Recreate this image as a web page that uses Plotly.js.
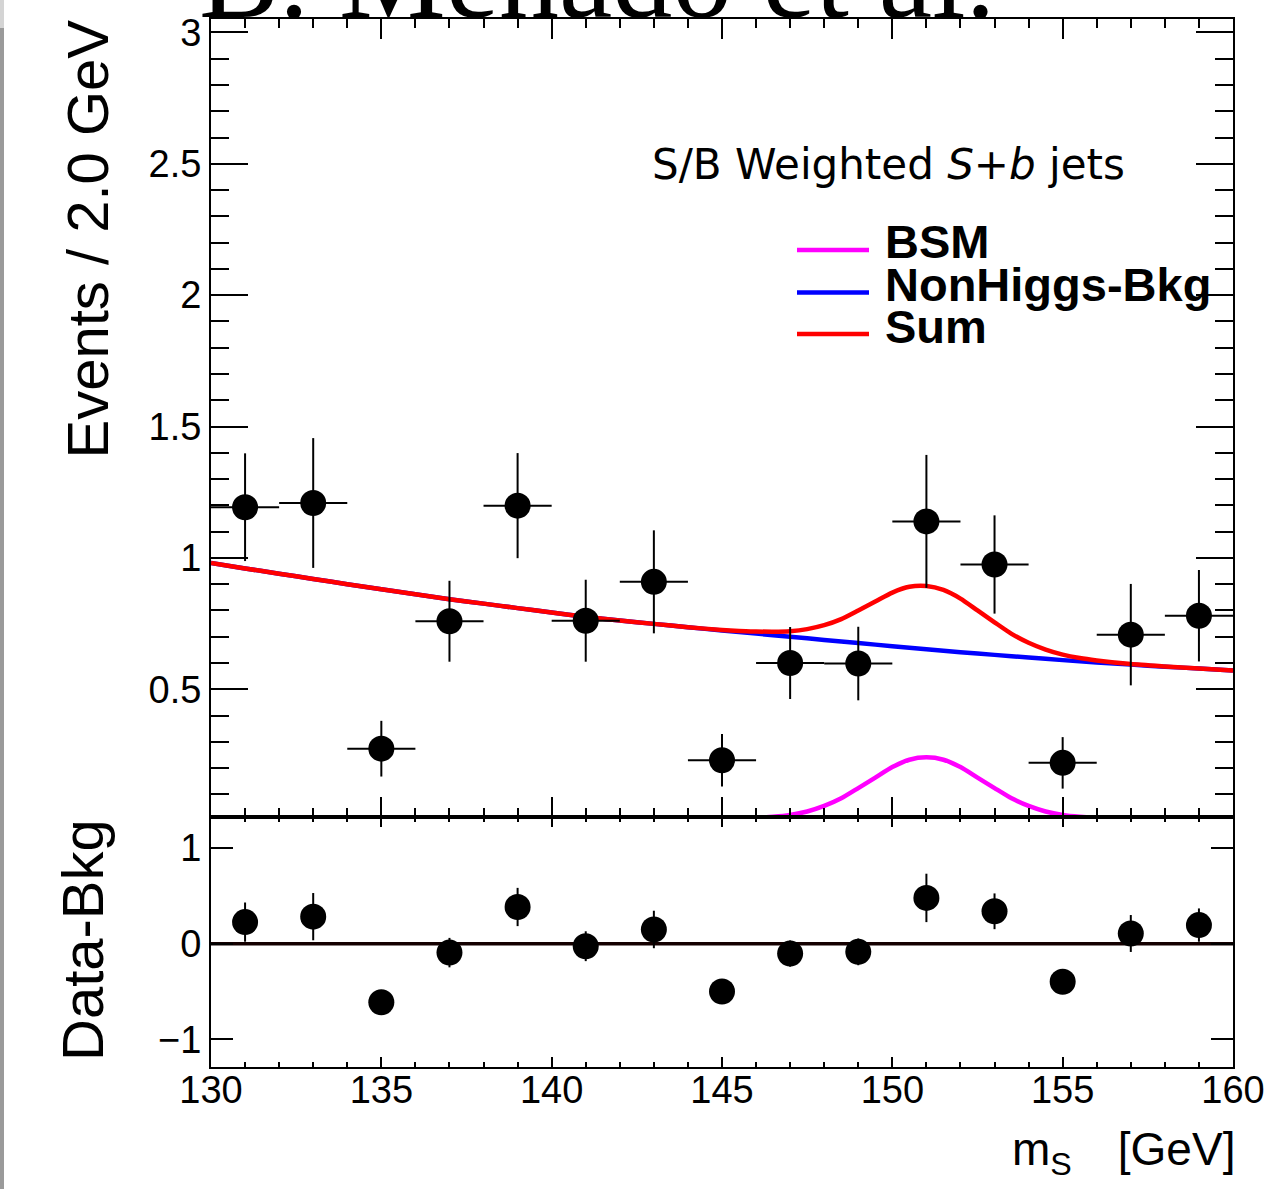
<!DOCTYPE html>
<html>
<head>
<meta charset="utf-8">
<script src="https://cdn.plot.ly/plotly-3.0.1.min.js"></script>
<style>html,body{margin:0;padding:0;background:#fff;}#chart{width:1270px;height:1189px;}</style>
</head>
<body>
<div id="chart"></div>
<script>
// ---- data ----
const binCenters = [131,133,135,137,139,141,143,145,147,149,151,153,155,157,159];
const dataY   = [1.193,1.209,0.274,0.759,1.199,0.761,0.909,0.230,0.600,0.598,1.139,0.975,0.220,0.708,0.780];
const dataErr = [0.205,0.247,0.106,0.154,0.200,0.156,0.196,0.100,0.137,0.140,0.253,0.187,0.098,0.193,0.174];
const binHalfWidth = 1.0;

const resY   = [0.227,0.284,-0.611,-0.092,0.385,-0.025,0.150,-0.499,-0.102,-0.084,0.480,0.340,-0.397,0.108,0.196];
const resErr = [0.205,0.247,0.106,0.154,0.200,0.156,0.196,0.100,0.137,0.140,0.253,0.187,0.098,0.193,0.174];

const bkgX = [130,131,132,133,134,135,136,137,138,139,140,141,142,143,144,145,146,147,148,149,150,151,152,153,154,155,156,157,158,159,160];
const bkgY = [0.981,0.960,0.940,0.920,0.900,0.881,0.862,0.843,0.826,0.809,0.792,0.776,0.762,0.749,0.736,0.724,0.712,0.700,0.688,0.676,0.664,0.652,0.641,0.631,0.621,0.611,0.602,0.594,0.586,0.579,0.572];

const bsmX = [145.5,146,146.5,147,147.5,148,148.5,149,149.5,150,150.5,151,151.5,152,152.5,153,153.5,154,154.5,155,155.5,156,156.5];
const bsmY = [0.006,0.011,0.015,0.022,0.035,0.056,0.085,0.124,0.164,0.204,0.232,0.241,0.232,0.204,0.164,0.124,0.085,0.056,0.035,0.022,0.015,0.011,0.006];

const sumX = [130,131,132,133,134,135,136,137,138,139,140,141,142,143,144,145,145.5,146,146.5,147,147.5,148,148.5,149,149.5,150,150.5,151,151.5,152,152.5,153,153.5,154,154.5,155,155.5,156,157,158,159,160];
const sumY = [0.981,0.960,0.940,0.920,0.900,0.881,0.862,0.843,0.826,0.809,0.792,0.776,0.762,0.749,0.736,0.726,0.722,0.720,0.719,0.721,0.729,0.744,0.767,0.800,0.834,0.868,0.890,0.893,0.878,0.845,0.800,0.755,0.711,0.677,0.651,0.632,0.619,0.610,0.596,0.587,0.579,0.572];

const zeroX = [130,160];
const zeroY = [0,0];

const xTickVals = [130,135,140,145,150,155,160];
const xTickText = ['130','135','140','145','150','155','160'];
const yTickVals = [0.5,1,1.5,2,2.5,3];
const yTickText = ['0.5','1','1.5','2','2.5','3'];
const rTickVals = [-1,0,1];
const rTickText = ['\u22121','0','1'];

const legendNames = ['BSM','NonHiggs-Bkg','Sum'];
const legendColors = ['#ff00ff','#0000ff','#ff0000'];

// ---- geometry helpers (pixel -> paper) ----
const W = 1270, H = 1189, ML = 211, MR = 37, MT = 19, MB = 122;
const PW = W - ML - MR, PH = H - MT - MB;
const px = v => (v - ML) / PW;
const py = v => (H - MB - v) / PH;
const split = py(817);

const FONT = 'Liberation Sans, Arial, Helvetica, sans-serif';

const traces = [
  {x: bkgX, y: bkgY, mode: 'lines', line: {color: '#0000ff', width: 4.5, shape: 'spline', smoothing: 0.6}, xaxis: 'x', yaxis: 'y', name: legendNames[1], hoverinfo: 'skip'},
  {x: sumX, y: sumY, mode: 'lines', line: {color: '#ff0000', width: 4.5, shape: 'spline', smoothing: 0.6}, xaxis: 'x', yaxis: 'y', name: legendNames[2], hoverinfo: 'skip'},
  {x: bsmX, y: bsmY, mode: 'lines', line: {color: '#ff00ff', width: 4.5, shape: 'spline', smoothing: 0.6}, xaxis: 'x', yaxis: 'y', name: legendNames[0], hoverinfo: 'skip'},
  {x: binCenters, y: dataY, mode: 'markers', marker: {color: '#000', size: 26},
   error_y: {type: 'data', array: dataErr, visible: true, color: '#000', thickness: 2, width: 0},
   error_x: {type: 'constant', value: binHalfWidth, visible: true, color: '#000', thickness: 2, width: 0},
   xaxis: 'x', yaxis: 'y', name: 'Data'},
  {x: zeroX, y: zeroY, mode: 'lines', line: {color: '#140000', width: 3.5}, xaxis: 'x2', yaxis: 'y2', hoverinfo: 'skip'},
  {x: binCenters, y: resY, mode: 'markers', marker: {color: '#000', size: 26},
   error_y: {type: 'data', array: resErr, visible: true, color: '#000', thickness: 2, width: 0},
   xaxis: 'x2', yaxis: 'y2', name: 'Data-Bkg'}
];

const axisCommon = {
  showline: true, linecolor: '#000', linewidth: 2, mirror: 'allticks',
  ticks: 'inside', tickcolor: '#000', tickwidth: 2,
  showgrid: false, zeroline: false,
  tickfont: {family: FONT, size: 38, color: '#000'}
};

const layout = {
  width: W, height: H,
  margin: {l: ML, r: MR, t: MT, b: MB, pad: 0},
  paper_bgcolor: '#fff', plot_bgcolor: '#fff',
  showlegend: false,
  xaxis: Object.assign({}, axisCommon, {
    domain: [0, 1], anchor: 'y', range: [130, 160],
    tickmode: 'array', tickvals: xTickVals, ticktext: xTickText, showticklabels: false,
    ticklen: 20, minor: {dtick: 1, ticklen: 9, ticks: 'inside', tickcolor: '#000', tickwidth: 2}
  }),
  yaxis: Object.assign({}, axisCommon, {
    domain: [split, 1], anchor: 'x', range: [0.014, 3.051],
    tickmode: 'array', tickvals: yTickVals, ticktext: yTickText,
    ticklen: 37, ticklabelstandoff: 0,
    minor: {tick0: 0, dtick: 0.1, ticklen: 18, ticks: 'inside', tickcolor: '#000', tickwidth: 2}
  }),
  xaxis2: Object.assign({}, axisCommon, {
    domain: [0, 1], anchor: 'y2', range: [130, 160], matches: 'x',
    tickmode: 'array', tickvals: xTickVals, ticktext: xTickText,
    ticklen: 10, ticklabelstandoff: -12,
    minor: {dtick: 1, ticklen: 5, ticks: 'inside', tickcolor: '#000', tickwidth: 2}
  }),
  yaxis2: Object.assign({}, axisCommon, {
    domain: [0, split], anchor: 'x2', range: [-1.288, 1.326],
    tickmode: 'array', tickvals: rTickVals, ticktext: rTickText,
    ticklen: 22, ticklabelstandoff: 0
  }),
  shapes: [
    {type: 'rect', xref: 'paper', yref: 'paper', x0: px(0), x1: px(4), y0: py(28), y1: py(0), fillcolor: '#d4d4d4', line: {width: 0}, layer: 'above'},
    {type: 'rect', xref: 'paper', yref: 'paper', x0: px(0), x1: px(4), y0: py(1189), y1: py(28), fillcolor: '#9a9a9a', line: {width: 0}, layer: 'above'},
    {type: 'line', xref: 'paper', yref: 'paper', x0: px(797), x1: px(869), y0: py(250), y1: py(250), line: {color: legendColors[0], width: 4.5}},
    {type: 'line', xref: 'paper', yref: 'paper', x0: px(797), x1: px(869), y0: py(292.5), y1: py(292.5), line: {color: legendColors[1], width: 4.5}},
    {type: 'line', xref: 'paper', yref: 'paper', x0: px(797), x1: px(869), y0: py(334), y1: py(334), line: {color: legendColors[2], width: 4.5}}
  ],
  annotations: [
    {text: 'B. Menado et al.', xref: 'paper', yref: 'paper', x: px(197), y: py(45), xanchor: 'left', yanchor: 'bottom', showarrow: false,
     font: {family: 'Liberation Serif, Times New Roman, serif', size: 120, color: '#000'}},
    {text: 'Events / 2.0 GeV', xref: 'paper', yref: 'paper', x: px(87), y: py(18), xanchor: 'center', yanchor: 'top', textangle: -90, showarrow: false,
     font: {family: FONT, size: 58, color: '#000'}},
    {text: 'Data-Bkg', xref: 'paper', yref: 'paper', x: px(82), y: py(817), xanchor: 'center', yanchor: 'top', textangle: -90, showarrow: false,
     font: {family: FONT, size: 58, color: '#000'}},
    {text: 'm<sub>S</sub>\u2003[GeV]', xref: 'paper', yref: 'paper', x: px(1237), y: py(1152), xanchor: 'right', yanchor: 'middle', showarrow: false,
     font: {family: FONT, size: 46, color: '#000'}},
    {text: 'S/B Weighted <i>S+b</i> jets', xref: 'paper', yref: 'paper', x: px(650), y: py(164), xanchor: 'left', yanchor: 'middle', showarrow: false,
     font: {family: 'DejaVu Sans, sans-serif', size: 42, color: '#000'}},
    {text: '<b>' + legendNames[0] + '</b>', xref: 'paper', yref: 'paper', x: px(883), y: py(241.5), xanchor: 'left', yanchor: 'middle', showarrow: false,
     font: {family: FONT, size: 47, color: '#000'}},
    {text: '<b>' + legendNames[1] + '</b>', xref: 'paper', yref: 'paper', x: px(883), y: py(284), xanchor: 'left', yanchor: 'middle', showarrow: false,
     font: {family: FONT, size: 47, color: '#000'}},
    {text: '<b>' + legendNames[2] + '</b>', xref: 'paper', yref: 'paper', x: px(883), y: py(326.7), xanchor: 'left', yanchor: 'middle', showarrow: false,
     font: {family: FONT, size: 47, color: '#000'}}
  ]
};

Plotly.newPlot('chart', traces, layout, {displayModeBar: false, staticPlot: true});
</script>
</body>
</html>
